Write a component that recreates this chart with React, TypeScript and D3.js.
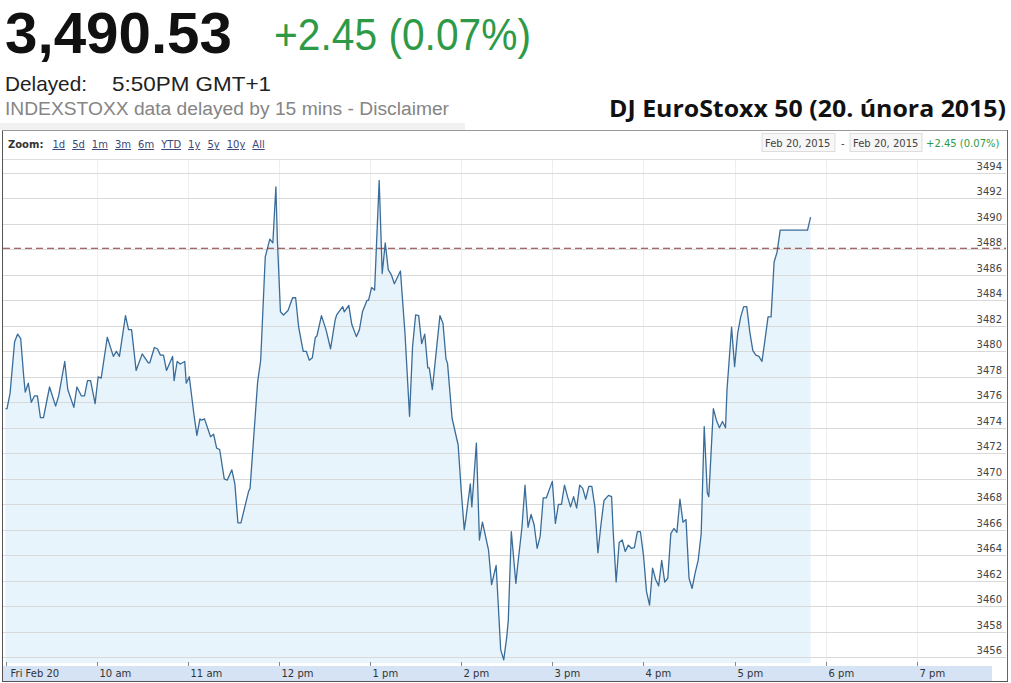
import React from "react";
import * as d3 from "d3";

// ---- data (Fri 20 Feb 2015, intraday) ----
const times = [
  "09:00","09:01","09:03","09:06","09:08","09:10","09:12","09:13","09:15","09:17","09:19","09:21","09:23","09:25","09:29","09:33","09:35","09:39","09:41","09:45","09:47","09:50","09:52","09:54","09:56","09:59",
  "10:01","10:03","10:07","10:11","10:13","10:15","10:19","10:21","10:23","10:26","10:30","10:34","10:35","10:38","10:40","10:42","10:44","10:46","10:50","10:51","10:53","10:55","10:58","10:59",
  "11:01","11:04","11:06","11:08","11:09","11:11","11:15","11:17","11:19","11:21","11:24","11:26","11:29","11:31","11:33","11:35","11:40","11:41","11:46","11:48","11:51","11:54","11:56","11:58","11:59",
  "12:01","12:03","12:06","12:09","12:11","12:13","12:16","12:18","12:20","12:22","12:24","12:25","12:28","12:31","12:34","12:37","12:38","12:42","12:43","12:46","12:48","12:51","12:53","12:55","12:58","12:59",
  "13:01","13:03","13:06","13:08","13:10","13:12","13:14","13:16","13:20","13:23","13:26","13:28","13:30","13:32","13:34","13:36","13:38","13:39","13:41","13:46","13:48","13:50","13:51","13:54","13:58",
  "14:00","14:02","14:03","14:06","14:07","14:10","14:12","14:14","14:18","14:20","14:23","14:26","14:28","14:30","14:31","14:33","14:36","14:37","14:40","14:42","14:44","14:46","14:48","14:50","14:52","14:54","14:56",
  "15:00","15:02","15:04","15:06","15:08","15:10","15:12","15:14","15:16","15:18","15:20","15:22","15:24","15:26","15:28","15:30","15:32","15:34","15:37","15:39","15:40","15:42","15:44","15:46","15:48","15:50","15:52","15:54","15:56","15:58",
  "16:00","16:02","16:04","16:06","16:08","16:10","16:12","16:14","16:16","16:18","16:20","16:22","16:24","16:26","16:28","16:30","16:32","16:34","16:36","16:38","16:40","16:42","16:43","16:46","16:48","16:50","16:52","16:54","16:55","16:58",
  "17:00","17:02","17:04","17:06","17:08","17:10","17:12","17:14","17:16","17:18","17:20","17:22","17:24","17:26","17:28","17:30","17:48","17:50"
];
const values = [
  3475.5,3475.5,3476.7,3480.75,3481.35,3481.0,3478.0,3476.8,3477.5,3476.0,3476.5,3476.5,3474.8,3474.8,3477.2,3475.7,3476.5,3479.2,3477.0,3475.6,3477.2,3476.5,3476.5,3477.7,3477.7,3475.9,
  3478.0,3477.9,3481.1,3479.6,3480.0,3479.6,3482.8,3481.7,3481.7,3478.5,3479.8,3479.1,3479.1,3480.3,3480.2,3479.7,3479.7,3478.5,3479.6,3477.7,3479.2,3479.0,3479.2,3477.5,
  3478.0,3475.1,3473.4,3474.7,3474.6,3474.7,3473.3,3473.5,3472.4,3472.3,3470.0,3469.9,3470.7,3469.6,3466.55,3466.55,3469.0,3469.25,3477.6,3479.3,3487.4,3488.8,3488.5,3492.9,3488.7,
  3483.1,3482.85,3483.2,3484.2,3484.2,3481.9,3480.0,3480.0,3479.3,3479.5,3481.1,3481.2,3482.8,3481.7,3480.2,3482.45,3482.85,3483.5,3483.1,3483.6,3482.1,3481.15,3481.7,3483.1,3484.0,3484.0,
  3485.0,3484.8,3493.4,3486.1,3488.5,3486.4,3486.0,3485.3,3486.3,3481.4,3474.9,3480.4,3482.85,3482.8,3480.6,3481.35,3478.7,3478.7,3477.0,3482.8,3482.2,3479.4,3479.05,3474.75,3472.65,
  3469.1,3466.0,3466.8,3469.6,3467.8,3472.8,3465.2,3466.6,3464.4,3461.7,3463.2,3456.6,3455.8,3457.6,3458.9,3465.85,3461.8,3463.0,3466.2,3469.5,3466.2,3467.2,3466.4,3464.55,3465.5,3468.5,3468.5,
  3469.8,3466.5,3468.0,3468.0,3469.5,3468.6,3467.8,3468.6,3467.7,3469.5,3469.25,3468.4,3469.4,3469.4,3467.8,3464.2,3466.4,3468.3,3468.7,3468.6,3466.0,3461.9,3465.0,3465.2,3464.3,3464.8,3464.55,3464.6,3465.85,3465.85,
  3464.0,3461.15,3460.1,3463.0,3462.1,3461.6,3463.6,3461.9,3462.2,3465.7,3466.1,3465.8,3468.4,3466.6,3466.8,3462.2,3461.4,3462.6,3463.6,3465.7,3474.1,3468.9,3468.6,3475.5,3474.6,3474.0,3474.5,3474.0,3477.0,3481.9,
  3478.8,3481.4,3482.7,3483.5,3483.5,3481.5,3480.05,3479.7,3479.6,3479.2,3480.9,3482.7,3482.7,3487.0,3487.8,3489.5,3489.5,3490.53
];
const previousClose = 3488.08;
const yTicks = [3456,3458,3460,3462,3464,3466,3468,3470,3472,3474,3476,3478,3480,3482,3484,3486,3488,3490,3492,3494];
const xTickTimes = ["09:00","10:00","11:00","12:00","13:00","14:00","15:00","16:00","17:00","18:00","19:00"];
const xTickLabels = ["Fri Feb 20","10 am","11 am","12 pm","1 pm","2 pm","3 pm","4 pm","5 pm","6 pm","7 pm"];
const zoomLinks = ["1d","5d","1m","3m","6m","YTD","1y","5y","10y","All"];
const lastPriceText = "3,490.53";
const changeText = "+2.45 (0.07%)";
const rangeStart = "Feb 20, 2015";
const rangeEnd = "Feb 20, 2015";
const titleText = "DJ EuroStoxx 50 (20. února 2015)";

const parse = d3.timeParse("%Y-%m-%d %H:%M");
const day = "2015-02-20 ";

export default function App() {
  const W = 1011, H = 683;
  const plotTop = 159, plotBottom = 663;
  const x = d3.scaleTime()
    .domain([parse(day + "09:00")!, parse(day + "19:58")!])
    .range([5.5, 1005]);
  const y = d3.scaleLinear().domain([3456, 3494]).range([657.3, 172.8]);

  const pts = times.map((t, i) => ({ t: parse(day + t)!, v: values[i] }));
  const line = d3.line<any>().x(d => x(d.t)).y(d => y(d.v));
  const area = d3.area<any>().x(d => x(d.t)).y0(plotBottom).y1(d => y(d.v));

  const green = "#2e9a47";
  const axisFont = "'DejaVu Sans', Verdana, sans-serif";
  const arial = "'Liberation Sans', Arial, sans-serif";

  return (
    <div style={{ position: "absolute", left: 0, top: 0 }}>
      <svg width={W} height={H} style={{ display: "block", background: "#fff" }}>
        {/* header */}
        <text x={5} y={53} fontFamily={arial} fontWeight="bold" fontSize={57} fill="#111"
          textLength={227} lengthAdjust="spacingAndGlyphs">{lastPriceText}</text>
        <text x={274} y={50} fontFamily={arial} fontSize={44} fill={green}
          textLength={257} lengthAdjust="spacingAndGlyphs">{changeText}</text>
        <text x={5} y={91} fontFamily={arial} fontSize={21} fill="#222"
          textLength={82} lengthAdjust="spacingAndGlyphs">Delayed:</text>
        <text x={112} y={91} fontFamily={arial} fontSize={21} fill="#222"
          textLength={159} lengthAdjust="spacingAndGlyphs">5:50PM GMT+1</text>
        <text x={5} y={115} fontFamily={arial} fontSize={18} fill="#858585"
          textLength={444} lengthAdjust="spacingAndGlyphs">INDEXSTOXX data delayed by 15 mins - Disclaimer</text>
        <rect x={0} y={123} width={465} height={7} fill="#f1f1f1" />
        <text x={609} y={117} fontFamily="'Open Sans', sans-serif" fontWeight="bold" fontSize={24} fill="#111"
          textLength={397} lengthAdjust="spacingAndGlyphs">{titleText}</text>

        {/* chart frame area */}
        <line x1={3} x2={1007} y1={plotTop + 0.5} y2={plotTop + 0.5} stroke="#ddd" />

        {/* zoom bar */}
        <text x={8} y={148} fontFamily={axisFont} fontSize={10} fill="#333">
          <tspan fontWeight="bold">Zoom:</tspan>
          {zoomLinks.map((z, i) => (
            <tspan key={z} dx={i === 0 ? 9 : 7} fill="#3c4878" textDecoration="underline">{z}</tspan>
          ))}
        </text>
        <rect x={762} y={133.5} width={73} height={18} fill="#f7f7f7" stroke="#ddd" />
        <text x={765} y={146.5} fontFamily={axisFont} fontSize={10} fill="#444">{rangeStart}</text>
        <text x={841} y={146.5} fontFamily={axisFont} fontSize={10} fill="#444">-</text>
        <rect x={850} y={133.5} width={72} height={18} fill="#f7f7f7" stroke="#ddd" />
        <text x={853} y={146.5} fontFamily={axisFont} fontSize={10} fill="#444">{rangeEnd}</text>
        <text x={926} y={146.5} fontFamily={axisFont} fontSize={10} fill={green}>{changeText}</text>

        {/* vertical grid */}
        {xTickTimes.slice(1).map(t => {
          const xx = Math.round(x(parse(day + t)!)) + 0.5;
          return <line key={"vg" + t} x1={xx} x2={xx} y1={plotTop + 1} y2={plotBottom} stroke="#eeeeee" />;
        })}

        {/* area + line */}
        <path d={area(pts)!} fill="#e7f4fc" />
        {/* horizontal grid */}
        {yTicks.map(v => {
          const yy = Math.round(y(v)) + 0.5;
          return <line key={"hg" + v} x1={3} x2={1006} y1={yy} y2={yy} stroke="#d9d9d9" />;
        })}
        <path d={line(pts)!} fill="none" stroke="#3a6c99" strokeWidth={1.3} strokeLinejoin="round" />
        {/* previous close */}
        <line x1={3} x2={1006} y1={y(previousClose)} y2={y(previousClose)} stroke="#8c3a3a"
          strokeWidth={1} strokeDasharray="7,4" />

        {/* y labels */}
        {yTicks.map(v => (
          <text key={"yl" + v} x={1002} y={Math.round(y(v)) - 3} textAnchor="end"
            fontFamily={axisFont} fontSize={10} fill="#444">{v}</text>
        ))}

        {/* x axis band */}
        <rect x={3} y={666} width={989} height={15} fill="#d5e3f4" />
        {xTickTimes.map((t, i) => {
          const xx = Math.round(x(parse(day + t)!)) + 0.5;
          return (
            <g key={"xt" + t}>
              <line x1={xx} x2={xx} y1={662} y2={666} stroke="#888" />
              <text x={xx + (i === 0 ? 4 : 2)} y={677} fontFamily={axisFont} fontSize={10} fill="#333">
                {xTickLabels[i]}
              </text>
            </g>
          );
        })}

        {/* frame */}
        <line x1={2.5} x2={2.5} y1={130} y2={682} stroke="#555" />
        <line x1={2} x2={1008} y1={130.5} y2={130.5} stroke="#999" />
        <line x1={1007.5} x2={1007.5} y1={130} y2={682} stroke="#666" />
        <line x1={2} x2={1008} y1={681.5} y2={681.5} stroke="#555" />
      </svg>
    </div>
  );
}
